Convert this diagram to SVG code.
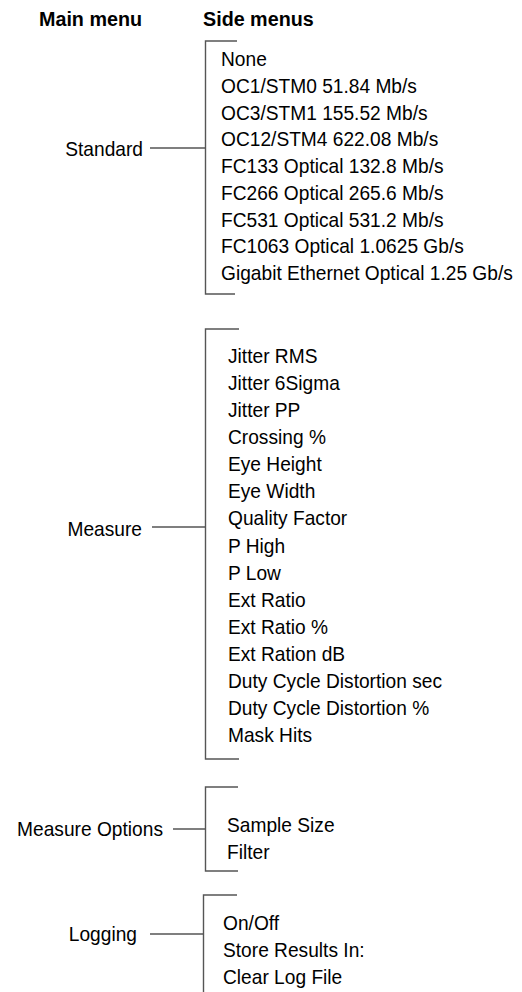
<svg xmlns="http://www.w3.org/2000/svg" width="522" height="992" viewBox="0 0 522 992">
<style>
text{font-family:"Liberation Sans",Arial,sans-serif;font-size:21px;fill:#000}
.h{font-weight:bold}
.e{text-anchor:end}
.ln{stroke:#555;stroke-width:1.4;fill:none}
</style>
<rect width="522" height="992" fill="#fff"/>
<g id="headers">
<text class="h" transform="translate(39,26) scale(0.94,1)">Main menu</text>
<text class="h" transform="translate(203,26) scale(0.94,1)">Side menus</text>
</g>
<g id="connectors">
<path class="ln" d="M237,41H205.5V294H235"/>
<path class="ln" d="M150,148H205.5"/>
<path class="ln" d="M239,329H205.5V759H239"/>
<path class="ln" d="M152,527H205.5"/>
<path class="ln" d="M238,787H205.5V871H238"/>
<path class="ln" d="M173,829H205.5"/>
<path class="ln" d="M237,895H203.5V992"/>
<path class="ln" d="M150,934H203.5"/>
</g>
<g id="node-standard">
<text class="e" transform="translate(143,156) scale(0.913,1)">Standard</text>
</g>
<g id="node-standard-side">
<text transform="translate(221,66) scale(0.913,1)">None</text>
<text transform="translate(221,92.8) scale(0.913,1)">OC1/STM0 51.84 Mb/s</text>
<text transform="translate(221,119.5) scale(0.913,1)">OC3/STM1 155.52 Mb/s</text>
<text transform="translate(221,146.3) scale(0.913,1)">OC12/STM4 622.08 Mb/s</text>
<text transform="translate(221,173) scale(0.913,1)">FC133 Optical 132.8 Mb/s</text>
<text transform="translate(221,199.8) scale(0.913,1)">FC266 Optical 265.6 Mb/s</text>
<text transform="translate(221,226.5) scale(0.913,1)">FC531 Optical 531.2 Mb/s</text>
<text transform="translate(221,253.3) scale(0.913,1)">FC1063 Optical 1.0625 Gb/s</text>
<text transform="translate(221,280) scale(0.913,1)">Gigabit Ethernet Optical 1.25 Gb/s</text>
</g>
<g id="node-measure">
<text class="e" transform="translate(142,536) scale(0.913,1)">Measure</text>
</g>
<g id="node-measure-side">
<text transform="translate(228,363) scale(0.913,1)">Jitter RMS</text>
<text transform="translate(228,390) scale(0.913,1)">Jitter 6Sigma</text>
<text transform="translate(228,417) scale(0.913,1)">Jitter PP</text>
<text transform="translate(228,444) scale(0.913,1)">Crossing %</text>
<text transform="translate(228,471) scale(0.913,1)">Eye Height</text>
<text transform="translate(228,498) scale(0.913,1)">Eye Width</text>
<text transform="translate(228,525) scale(0.913,1)">Quality Factor</text>
<text transform="translate(228,553) scale(0.913,1)">P High</text>
<text transform="translate(228,580) scale(0.913,1)">P Low</text>
<text transform="translate(228,607) scale(0.913,1)">Ext Ratio</text>
<text transform="translate(228,634) scale(0.913,1)">Ext Ratio %</text>
<text transform="translate(228,661) scale(0.913,1)">Ext Ration dB</text>
<text transform="translate(228,688) scale(0.913,1)">Duty Cycle Distortion sec</text>
<text transform="translate(228,715) scale(0.913,1)">Duty Cycle Distortion %</text>
<text transform="translate(228,742) scale(0.913,1)">Mask Hits</text>
</g>
<g id="node-measure-options">
<text class="e" transform="translate(163,836) scale(0.913,1)">Measure Options</text>
</g>
<g id="node-measure-options-side">
<text transform="translate(227,832) scale(0.913,1)">Sample Size</text>
<text transform="translate(227,859) scale(0.913,1)">Filter</text>
</g>
<g id="node-logging">
<text class="e" transform="translate(137,941) scale(0.913,1)">Logging</text>
</g>
<g id="node-logging-side">
<text transform="translate(223,930) scale(0.913,1)">On/Off</text>
<text transform="translate(223,957) scale(0.913,1)">Store Results In:</text>
<text transform="translate(223,984) scale(0.913,1)">Clear Log File</text>
</g>
</svg>
